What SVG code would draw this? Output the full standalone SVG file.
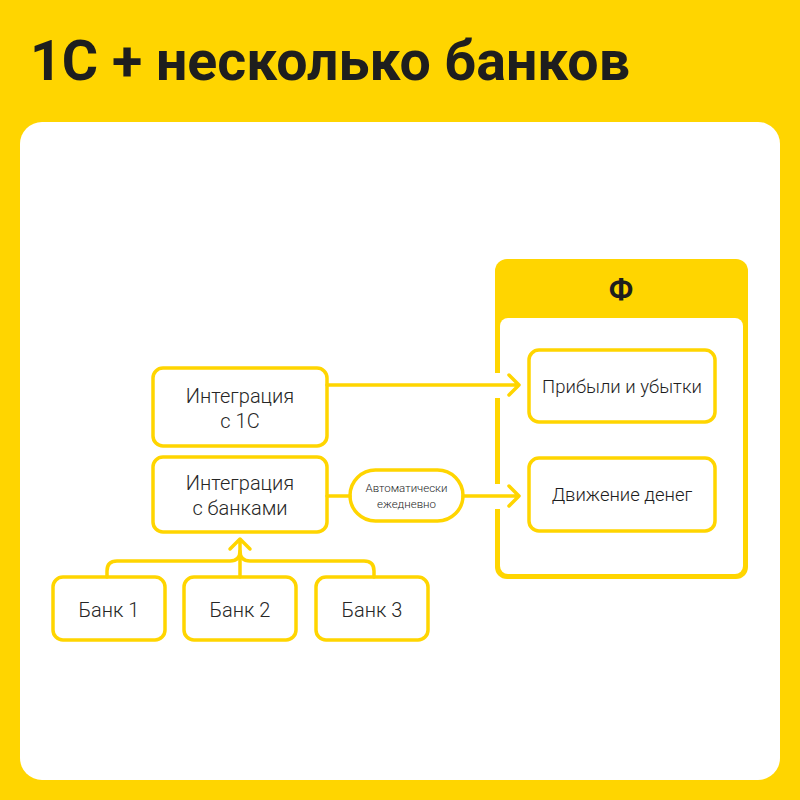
<svg xmlns="http://www.w3.org/2000/svg" width="800" height="800" viewBox="0 0 800 800">
<defs>
<style>
.box{fill:#fff;stroke:#FFD500;stroke-width:3.5}
.ln{fill:none;stroke:#FFD500;stroke-width:3.5;stroke-linecap:round;stroke-linejoin:round}
.t{font-family:Roboto,"Liberation Sans",sans-serif;font-weight:300;fill:#262626;text-anchor:middle;font-size:20px}
.r{font-family:Roboto,"Liberation Sans",sans-serif;font-weight:300;fill:#1e1e1e;text-anchor:middle;font-size:18.5px}
.s{font-family:Roboto,"Liberation Sans",sans-serif;font-weight:300;fill:#262626;text-anchor:middle;font-size:11.5px}
</style>
</defs>
<rect x="0" y="0" width="800" height="800" fill="#FFD500"/>
<text x="30" y="80" font-family="Roboto,'Liberation Sans',sans-serif" font-weight="bold" font-size="56" fill="#1e1e1e" textLength="600" lengthAdjust="spacingAndGlyphs">1С + несколько банков</text>
<rect x="20" y="122" width="760" height="658" rx="22" fill="#fff"/>

<g id="container-f">
<rect x="495" y="259" width="253" height="320" rx="12" fill="#FFD500"/>
<rect x="500" y="318" width="243" height="256" rx="8" fill="#fff"/>
<rect x="492" y="373" width="10" height="25" fill="#fff"/>
<rect x="492" y="484" width="10" height="25" fill="#fff"/>
<text x="621" y="300" font-family="Roboto,'Liberation Sans',sans-serif" font-weight="bold" font-size="30" fill="#1e1e1e" text-anchor="middle">Ф</text>
</g>

<g id="pnl">
<rect class="box" x="529" y="350" width="186" height="72" rx="10"/>
<text class="r" x="622" y="393">Прибыли и убытки</text>
</g>
<g id="cashflow">
<rect class="box" x="529" y="458" width="186" height="73" rx="10"/>
<text class="r" x="622" y="501">Движение денег</text>
</g>

<g id="int-1c">
<rect class="box" x="153" y="368" width="174" height="78" rx="10"/>
<text class="t" x="240" y="403">Интеграция</text>
<text class="t" x="240" y="428">с 1С</text>
</g>
<g id="int-banks">
<rect class="box" x="153" y="457" width="174" height="75" rx="10"/>
<text class="t" x="240" y="490">Интеграция</text>
<text class="t" x="240" y="515">с банками</text>
</g>
<g id="pill">
<rect class="box" x="350" y="470" width="113" height="51" rx="25.5"/>
<text class="s" x="406.5" y="492">Автоматически</text>
<text class="s" x="406.5" y="508">ежедневно</text>
</g>

<g id="bank1">
<rect class="box" x="53" y="577" width="112" height="63" rx="10"/>
<text class="t" x="109" y="617">Банк 1</text>
</g>
<g id="bank2">
<rect class="box" x="184" y="577" width="112" height="63" rx="10"/>
<text class="t" x="240" y="617">Банк 2</text>
</g>
<g id="bank3">
<rect class="box" x="316" y="577" width="112" height="63" rx="10"/>
<text class="t" x="372" y="617">Банк 3</text>
</g>

<g id="connectors">
<path class="ln" d="M327,385 H519 M509,375 L519,385 L509,395"/>
<path class="ln" d="M327,496 H350 M463,496 H519 M509,486 L519,496 L509,506"/>
<path class="ln" d="M107,577 V571 Q107,561 117,561 H230 Q240,561 240,551 Q240,561 250,561 H364 Q374,561 374,571 V577"/>
<path class="ln" d="M240,577 V539 M230,549 L240,539 L250,549"/>
</g>
</svg>
